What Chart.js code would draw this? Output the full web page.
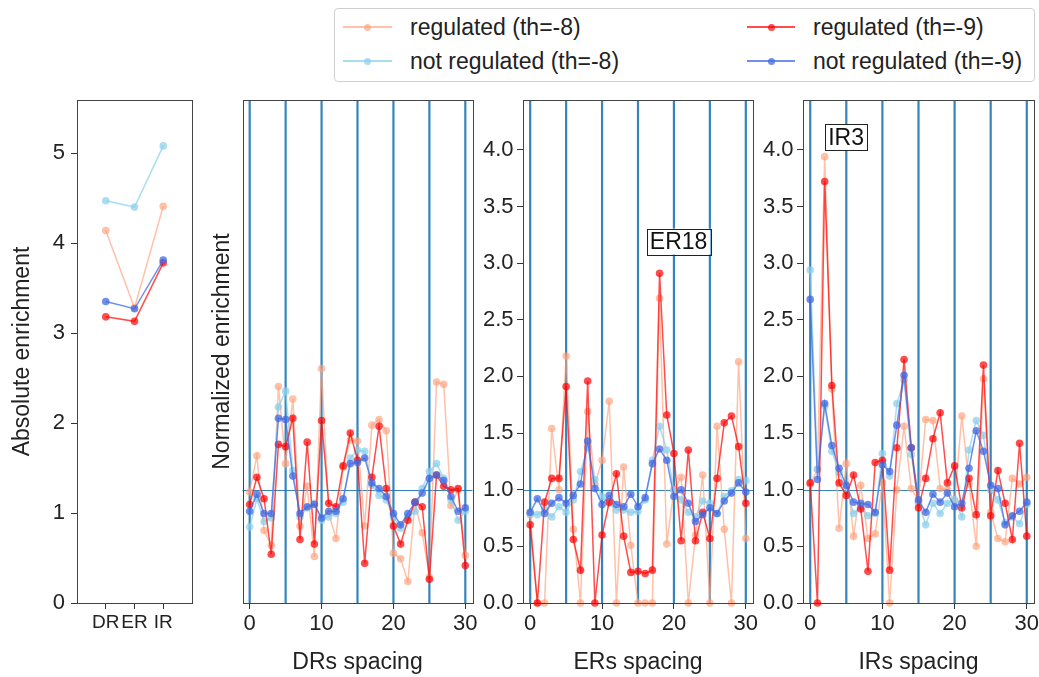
<!DOCTYPE html>
<html>
<head>
<meta charset="utf-8">
<script src="https://cdn.jsdelivr.net/npm/chart.js@4"></script>
<style>
  html, body { margin: 0; padding: 0; background: #fff; overflow: hidden; }
  #fig { position: absolute; left: 0; top: 0; width: 1039px; height: 677px; font-family: "Liberation Sans", Arial, sans-serif; color: #222; }
  #fig canvas { position: absolute; }
  .legend { position: absolute; border: 1px solid #cfcfcf; border-radius: 4px; box-sizing: border-box; background: #fff; }
  .lg { position: absolute; }
</style>
</head>
<body>
<div id="fig"></div>
<script>
// ---- data ----
var absCategories = ['DR', 'ER', 'IR'];
var absReg8 = [4.14, 3.28, 4.41];
var absNot8 = [4.47, 4.40, 5.08];
var absReg9 = [3.18, 3.13, 3.78];
var absNot9 = [3.35, 3.27, 3.81];

var spacing = [0,1,2,3,4,5,6,7,8,9,10,11,12,13,14,15,16,17,18,19,20,21,22,23,24,25,26,27,28,29,30];
var spacingTicks = [0, 10, 20, 30];
var normTicks = [0, 0.5, 1, 1.5, 2, 2.5, 3, 3.5, 4];
var absTicks = [0, 1, 2, 3, 4, 5];
var helixLines = [0, 5, 10, 15, 20, 25, 30];
var baseline = [1];

var drReg8 = [0.98,1.30,0.64,0.51,1.91,1.23,1.80,0.68,1.03,0.41,2.07,0.79,0.57,1.20,1.44,1.43,0.68,1.57,1.62,1.52,0.44,0.39,0.19,0.88,0.62,0.23,1.95,1.93,0.86,1.00,0.42];
var drNot8 = [0.67,0.92,0.72,0.75,1.73,1.87,1.17,0.76,0.84,0.88,0.73,0.76,0.79,0.89,1.28,1.35,1.34,1.04,0.95,0.91,0.76,0.66,0.76,0.81,1.01,1.16,1.23,1.10,0.91,0.73,0.81];
var drReg9 = [0.87,1.11,0.92,0.43,1.40,1.38,1.63,0.56,1.42,0.52,1.61,0.88,0.85,1.21,1.50,1.26,0.35,1.11,1.56,1.01,0.68,0.52,0.73,0.89,0.85,0.21,1.13,1.03,1.00,1.01,0.33];
var drNot9 = [0.81,0.96,0.79,0.79,1.63,1.62,1.12,0.79,0.85,0.87,0.75,0.81,0.81,0.92,1.23,1.24,1.28,1.06,1.01,0.94,0.79,0.69,0.79,0.89,0.97,1.10,1.13,1.08,0.94,0.81,0.84];

var erReg8 = [0.78,0,0,1.54,1.00,2.18,0.65,0,1.69,1.05,1.26,1.78,0,1.20,0.51,0,0,0,2.69,0.52,1.00,1.11,0,0.60,1.13,0,1.56,0.65,0,2.13,0.57];
var erNot8 = [0.79,0.78,0.83,0.76,0.85,0.80,0.91,1.16,1.37,1.09,0.94,0.88,0.82,0.82,0.80,0.81,0.91,1.26,1.56,1.35,0.99,0.91,0.80,0.76,0.90,0.88,0.79,0.94,0.99,1.09,1.08];
var erReg9 = [0.69,0,0.89,1.10,1.10,1.91,0.56,0.29,1.96,0,0.60,0.89,1.14,0.59,0.27,0.28,0.26,0.29,2.91,1.66,1.32,0.55,1.35,0.55,0.80,0.57,1.10,1.59,1.65,1.38,0.88];
var erNot9 = [0.80,0.92,0.79,0.88,0.93,0.88,0.95,1.05,1.43,1.01,0.87,0.95,0.87,0.85,0.96,0.85,0.93,1.23,1.36,1.26,0.94,1.00,0.88,0.72,0.78,0.84,0.79,0.90,0.97,1.06,0.98];

var irReg8 = [1.05,1.18,3.94,1.89,0.66,1.23,0.59,1.04,0.57,0.61,1.06,0,1.00,1.56,1.01,0.90,1.62,1.61,1.01,1.00,0.90,1.65,1.05,0.50,1.98,0.80,0.57,0.54,1.10,1.05,1.11];
var irNot8 = [2.94,1.18,1.74,1.34,1.15,1.01,0.79,0.85,0.77,0.79,1.32,1.12,1.76,1.97,1.31,0.88,0.69,0.88,0.79,0.88,0.91,0.76,1.35,1.61,1.48,1.00,0.91,0.71,0.76,0.70,0.87];
var irReg9 = [1.06,0,3.72,1.92,1.06,0.95,1.13,0.83,0.28,1.24,1.26,0.29,1.37,2.15,1.37,0.84,1.10,1.45,1.68,1.06,1.21,0.84,1.10,0.78,2.10,0.77,1.17,0.88,0.56,1.41,0.59];
var irNot9 = [2.68,1.09,1.76,1.39,1.19,1.04,0.89,0.88,0.87,0.80,1.22,1.16,1.57,2.01,1.37,0.91,0.80,0.96,0.89,0.97,0.85,0.88,1.19,1.52,1.34,1.04,1.01,0.69,0.77,0.81,0.89];

// ---- styling / layout ----
var fig = document.getElementById('fig');
var FAMILY = '"Liberation Sans", Arial, sans-serif';
Chart.defaults.font.family = FAMILY;
Chart.defaults.color = '#222';

var seriesStyle = [
  { label: 'regulated (th=-8)',     color: 'rgba(255,160,122,0.65)', order: 4 },
  { label: 'not regulated (th=-8)', color: 'rgba(135,206,235,0.7)',  order: 3 },
  { label: 'regulated (th=-9)',     color: 'rgba(255,0,0,0.7)',      order: 2 },
  { label: 'not regulated (th=-9)', color: 'rgba(65,105,225,0.75)',  order: 1 }
];

function makeDatasets(xs, arrs){
  return arrs.map(function(a, i){
    var st = seriesStyle[i];
    return {
      label: st.label,
      data: a.map(function(v, j){ return { x: xs[j], y: v }; }),
      borderColor: st.color, backgroundColor: st.color,
      borderWidth: 1.5, pointRadius: 3.8, pointHoverRadius: 3.8, pointBorderWidth: 0,
      order: st.order, clip: false, tension: 0
    };
  });
}

// vertical helix lines + baseline, frame, text boxes
var refLines = {
  id: 'refLines',
  beforeDatasetsDraw: function(chart, args, o){
    if (!o || !o.vx) return;
    var ctx = chart.ctx, a = chart.chartArea, xs = chart.scales.x, ys = chart.scales.y;
    ctx.save();
    ctx.strokeStyle = 'rgba(31,119,180,0.9)';
    ctx.lineWidth = 2.2;
    o.vx.forEach(function(v){
      var p = xs.getPixelForValue(v);
      ctx.beginPath(); ctx.moveTo(p, a.top); ctx.lineTo(p, a.bottom); ctx.stroke();
    });
    ctx.lineWidth = 1;
    o.hy.forEach(function(v){
      var p = Math.round(ys.getPixelForValue(v)) + 0.5;
      ctx.beginPath(); ctx.moveTo(a.left, p); ctx.lineTo(a.right, p); ctx.stroke();
    });
    ctx.restore();
  },
  afterDatasetsDraw: function(chart){
    var ctx = chart.ctx, a = chart.chartArea;
    ctx.save();
    ctx.strokeStyle = '#444'; ctx.lineWidth = 1;
    ctx.strokeRect(Math.round(a.left) + 0.5, Math.round(a.top) + 0.5, Math.round(a.right - a.left), Math.round(a.bottom - a.top));
    ctx.restore();
  },
  afterDraw: function(chart, args, o){
    if (!o || !o.notes) return;
    var ctx = chart.ctx, xs = chart.scales.x, ys = chart.scales.y;
    ctx.save();
    ctx.font = '23px ' + FAMILY;
    ctx.textAlign = 'center'; ctx.textBaseline = 'middle';
    o.notes.forEach(function(n){
      var cx = xs.getPixelForValue(n.x), cy = ys.getPixelForValue(n.y);
      var w = ctx.measureText(n.text).width + 6, h = 26;
      ctx.fillStyle = '#fff';
      ctx.fillRect(cx - w / 2, cy - h / 2, w, h);
      ctx.strokeStyle = '#222'; ctx.lineWidth = 1;
      ctx.strokeRect(Math.round(cx - w / 2) + 0.5, Math.round(cy - h / 2) + 0.5, Math.round(w), h);
      ctx.fillStyle = '#111';
      ctx.fillText(n.text, cx, cy + 1);
    });
    ctx.restore();
  }
};

function panel(o){
  var c = document.createElement('canvas');
  var left = o.plotL - o.yW;
  var plotW = o.plotR - o.plotL;
  var w = Math.ceil(o.yW + plotW + 8), h = 587;
  c.width = w; c.height = h;
  c.style.left = left + 'px'; c.style.top = '90px';
  c.style.width = w + 'px'; c.style.height = h + 'px';
  fig.appendChild(c);

  new Chart(c.getContext('2d'), {
    type: 'line',
    data: { datasets: o.datasets },
    plugins: [refLines],
    options: {
      responsive: false, animation: false, events: [],
      layout: { padding: { top: 10, right: w - o.yW - plotW, left: 0, bottom: 0 } },
      plugins: {
        legend: { display: false }, tooltip: { enabled: false },
        refLines: { vx: o.vx, hy: o.hy || [], notes: o.notes }
      },
      scales: {
        x: {
          type: 'linear', min: o.xMin, max: o.xMax,
          afterBuildTicks: function(s){ s.ticks = o.xTicks.map(function(v){ return { value: v }; }); },
          afterFit: function(s){ s.height = 74; s.paddingLeft = 0; s.paddingRight = 0; },
          ticks: { font: { size: o.xFont || 22 }, padding: 2, maxRotation: 0, autoSkip: false, color: '#222',
                   callback: o.xLabel || function(v){ return v; } },
          grid: { drawOnChartArea: false, drawTicks: true, tickLength: 6, color: '#333' },
          border: { display: false },
          title: { display: true, text: o.xTitle, font: { size: 23 }, color: '#222', padding: { top: 0, bottom: 1 } }
        },
        y: {
          type: 'linear', min: 0, max: o.yMax,
          afterBuildTicks: function(s){ s.ticks = o.yTicks.map(function(v){ return { value: v }; }); },
          afterFit: function(s){ s.width = o.yW; s.paddingTop = 0; s.paddingBottom = 0; },
          ticks: { display: o.yLabels, font: { size: 22 }, padding: o.yPad || 3, color: '#222',
                   callback: o.yFmt || function(v){ return v; } },
          grid: { drawOnChartArea: false, drawTicks: o.yLabels, tickLength: 6, color: '#333' },
          border: { display: false },
          title: { display: !!o.yTitle, text: o.yTitle, font: { size: 23 }, color: '#222', padding: { top: o.yTitlePad || 0, bottom: 0 } }
        }
      }
    }
  });
}

var fmt1 = function(v){ return v.toFixed(1); };

// absolute enrichment
panel({
  plotL: 77, plotR: 192, yW: 77,
  datasets: makeDatasets([0, 1, 2], [absReg8, absNot8, absReg9, absNot9]),
  xMin: -1, xMax: 3, xTicks: [0, 1, 2], xLabel: function(v){ return absCategories[v]; }, xTitle: '', xFont: 19,
  yMax: 5.59, yTicks: absTicks, yLabels: true, yPad: 6,
  yTitle: 'Absolute enrichment', yTitlePad: 9
});

// DR
panel({
  plotL: 242, plotR: 472, yW: 33.5,
  datasets: makeDatasets(spacing, [drReg8, drNot8, drReg9, drNot9]),
  xMin: -1, xMax: 31, xTicks: spacingTicks, xTitle: 'DRs spacing',
  yMax: 4.44, yTicks: normTicks, yLabels: false,
  yTitle: 'Normalized enrichment', yTitlePad: 0,
  vx: helixLines, hy: baseline
});

// ER
panel({
  plotL: 523, plotR: 753, yW: 46,
  datasets: makeDatasets(spacing, [erReg8, erNot8, erReg9, erNot9]),
  xMin: -1, xMax: 31, xTicks: spacingTicks, xTitle: 'ERs spacing',
  yMax: 4.44, yTicks: normTicks, yLabels: true, yFmt: fmt1, yPad: 3.5,
  vx: helixLines, hy: baseline,
  notes: [{ x: 20.65, y: 3.19, text: 'ER18' }]
});

// IR
panel({
  plotL: 803, plotR: 1034, yW: 46,
  datasets: makeDatasets(spacing, [irReg8, irNot8, irReg9, irNot9]),
  xMin: -1, xMax: 31, xTicks: spacingTicks, xTitle: 'IRs spacing',
  yMax: 4.44, yTicks: normTicks, yLabels: true, yFmt: fmt1, yPad: 3.5,
  vx: helixLines, hy: baseline,
  notes: [{ x: 4.96, y: 4.11, text: 'IR3' }]
});

// shared legend
var box = document.createElement('div');
box.className = 'legend';
box.style.left = '334px'; box.style.top = '8px';
box.style.width = '701px'; box.style.height = '74px';
fig.appendChild(box);
var slots = [
  { sx: 343, ex: 392, tx: 410, cy: 27 },
  { sx: 343, ex: 392, tx: 410, cy: 61 },
  { sx: 747, ex: 795, tx: 813, cy: 27 },
  { sx: 747, ex: 795, tx: 813, cy: 61 }
];
seriesStyle.forEach(function(st, i){
  var sl = slots[i];
  var ln = document.createElement('div'); ln.className = 'lg';
  ln.style.cssText = 'left:' + sl.sx + 'px;top:' + (sl.cy - 1) + 'px;width:' + (sl.ex - sl.sx) + 'px;height:2px;background:' + st.color;
  fig.appendChild(ln);
  var dot = document.createElement('div'); dot.className = 'lg';
  dot.style.cssText = 'left:' + ((sl.sx + sl.ex) / 2 - 3.5) + 'px;top:' + (sl.cy - 3.5) + 'px;width:7px;height:7px;border-radius:50%;background:' + st.color;
  fig.appendChild(dot);
  var tx = document.createElement('div'); tx.className = 'lg';
  tx.style.cssText = 'left:' + sl.tx + 'px;top:' + (sl.cy - 14) + 'px;line-height:28px;font-size:23px;white-space:nowrap;color:#222';
  tx.textContent = st.label;
  fig.appendChild(tx);
});
</script>
</body>
</html>
